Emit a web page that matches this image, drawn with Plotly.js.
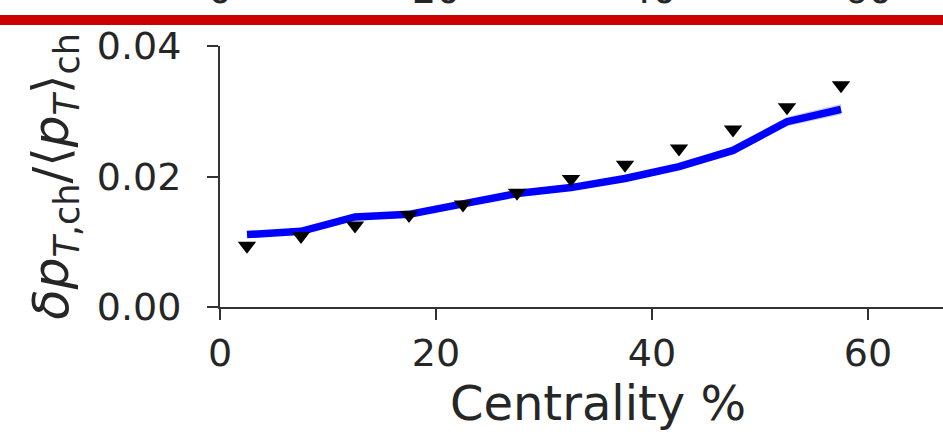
<!DOCTYPE html>
<html>
<head>
<meta charset="utf-8">
<script src="https://cdn.plot.ly/plotly-3.0.1.min.js"></script>
<style>
html, body { margin: 0; padding: 0; overflow: hidden; background: #fff; width: 943px; height: 436px; }
#chart { position: absolute; left: 0; top: -40px; width: 980px; height: 476px; }
</style>
</head>
<body>
<div id="chart"></div>
<script>
// Data
const centrality = [2.5, 7.5, 12.5, 17.5, 22.5, 27.5, 32.5, 37.5, 42.5, 47.5, 52.5, 57.5];
const measured   = [0.0094, 0.0109, 0.0125, 0.0141, 0.0157, 0.0175, 0.0196, 0.0218, 0.0243, 0.0272, 0.0306, 0.0340];
const model      = [0.0111, 0.0116, 0.0138, 0.0142, 0.0158, 0.0174, 0.0183, 0.0197, 0.0215, 0.0240, 0.0284, 0.0303];
const modelErr   = [0.0003, 0.0003, 0.0003, 0.0003, 0.0004, 0.0004, 0.0004, 0.0005, 0.0005, 0.0006, 0.0007, 0.0008];
const xTicks = [0, 20, 40, 60];
const yTicks = [0, 0.02, 0.04];
const upperPanelTicks = ['0', '20', '40', '60'];

const upper = model.map((v, i) => v + modelErr[i]);
const lower = model.map((v, i) => v - modelErr[i]);

const textColor = '#262626';
const axisColor = '#333333';
const font = 'DejaVu Sans, sans-serif';

const traces = [
  { x: centrality, y: lower, mode: 'lines', line: { width: 0, color: 'rgba(0,0,255,0)' }, hoverinfo: 'skip', showlegend: false },
  { x: centrality, y: upper, mode: 'lines', fill: 'tonexty', fillcolor: 'rgba(60,60,255,0.28)', line: { width: 0, color: 'rgba(0,0,255,0)' }, hoverinfo: 'skip', showlegend: false },
  { x: centrality, y: model, mode: 'lines', line: { color: '#0000ff', width: 7.5 }, showlegend: false },
  { x: centrality, y: measured, mode: 'markers', marker: { symbol: 'triangle-down', size: 16, color: '#000000' }, showlegend: false }
];

const annotations = upperPanelTicks.map((t, i) => ({
  x: xTicks[i], xref: 'x', y: 1.2146, yref: 'paper', yanchor: 'middle', xanchor: 'center',
  text: t, showarrow: false, font: { family: font, size: 38, color: textColor }
}));

const layout = {
  width: 980, height: 476,
  margin: { l: 220, r: 4, t: 86, b: 129 },
  paper_bgcolor: '#ffffff', plot_bgcolor: '#ffffff',
  font: { family: font, color: textColor },
  showlegend: false,
  xaxis: {
    range: [0, 70], tickvals: xTicks, ticktext: xTicks.map(String),
    showline: true, linecolor: axisColor, linewidth: 2,
    ticks: 'outside', ticklen: 11, tickwidth: 2, tickcolor: axisColor,
    showgrid: false, zeroline: false,
    tickfont: { family: font, size: 38, color: textColor },
    ticklabelstandoff: 0,
    title: { text: 'Centrality %', font: { family: font, size: 48, color: textColor }, standoff: 12 }
  },
  yaxis: {
    range: [0, 0.04], tickvals: yTicks, tickformat: '.2f',
    showline: true, linecolor: axisColor, linewidth: 2,
    ticks: 'outside', ticklen: 11, tickwidth: 2, tickcolor: axisColor,
    showgrid: false, zeroline: false,
    tickfont: { family: font, size: 38, color: textColor },
    ticklabelstandoff: 18,
    title: { text: '<i>δp</i><sub><i>T</i>,ch</sub>/⟨<i>p</i><sub><i>T</i></sub>⟩<sub>ch</sub>', font: { family: font, size: 50, color: textColor }, standoff: 12 }
  },
  shapes: [
    { type: 'rect', xref: 'paper', yref: 'paper', x0: -0.4, x1: 1.1, y0: 1.0805, y1: 1.1188, fillcolor: '#cc0000', line: { width: 0 } }
  ],
  annotations: annotations
};

Plotly.newPlot('chart', traces, layout, { displayModeBar: false, staticPlot: true });
</script>
</body>
</html>
